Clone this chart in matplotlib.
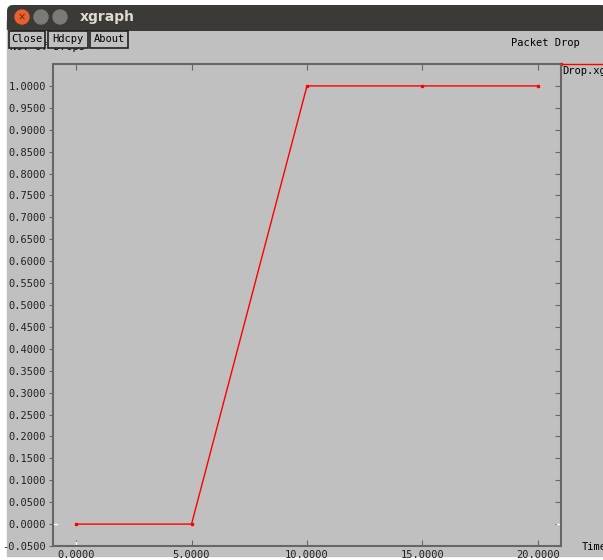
import numpy as np
import matplotlib
matplotlib.use('Agg')
import matplotlib.pyplot as plt
from matplotlib.patches import Rectangle, FancyBboxPatch, Circle

# datos del archivo Drop.xg
tiempo = [0, 5, 10, 15, 20]
caidas = [0, 0, 1, 1, 1]
x_ticks = [0, 5, 10, 15, 20]
y_ticks = np.round(np.arange(-0.05, 1.0001, 0.05), 4)

gris = '#c0c0c0'
borde = '#666666'
mono = 'DejaVu Sans Mono'

fig = plt.figure(figsize=(6.03, 5.60), dpi=100)
fig.patch.set_facecolor('white')

# capa de fondo en pixeles (ventana)
bg = fig.add_axes([0, 0, 1, 1])
bg.set_xlim(0, 603)
bg.set_ylim(560, 0)
bg.axis('off')
bg.add_patch(Rectangle((7, 28), 600, 528, color=gris, zorder=0))
barra = FancyBboxPatch((7, 5), 600, 26, boxstyle='round,pad=0,rounding_size=6',
                       facecolor='#3b3a36', edgecolor='none', zorder=1)
bg.add_patch(barra)
bg.add_patch(Rectangle((7, 20), 600, 9, color='#3b3a36', zorder=1))
bg.add_patch(Circle((22, 17), 7, color='#e9602f', zorder=2))
bg.text(22, 17.5, '×', color='#5a2a10', fontsize=7, ha='center', va='center', zorder=3)
bg.add_patch(Circle((41, 17), 7, color='#7b7a76', zorder=2))
bg.add_patch(Circle((60, 17), 7, color='#7b7a76', zorder=2))
bg.text(80, 17, 'xgraph', color='#dfdbd2', fontsize=10, fontweight='bold', va='center', zorder=3)

# texto de los ejes y titulo
bg.text(10, 52, 'No. of Drops', family=mono, fontsize=7.5, va='bottom', zorder=2)
bg.text(545, 43, 'Packet Drop', family=mono, fontsize=7.5, ha='center', va='center', zorder=2)
bg.text(582, 547, 'Time', family=mono, fontsize=7.5, va='center', zorder=2)

# botones
for nombre, x0, x1 in [('Close', 9, 45), ('Hdcpy', 48, 88), ('About', 90, 128)]:
    bg.add_patch(Rectangle((x0, 31), x1 - x0, 17, facecolor=gris, edgecolor='#222222', lw=1.2, zorder=4))
    bg.text((x0 + x1) / 2, 39.5, nombre, family=mono, fontsize=7.5, ha='center', va='center', zorder=5)

# leyenda
bg.plot([561, 610], [64, 64], color='red', lw=1, clip_on=False, zorder=3)
bg.plot([561], [64], 's', color='red', ms=2, zorder=3)
bg.text(562, 71, 'Drop.xg', family=mono, fontsize=7.5, va='center', zorder=3)

# grafica
ax = fig.add_axes([53 / 603, 14 / 560, 508 / 603, 482 / 560])
ax.set_facecolor('none')
ax.plot(tiempo, caidas, color='red', lw=1, marker='s', ms=2)
ax.set_xlim(-1, 21)
ax.set_ylim(-0.05, 1.05)
ax.set_xticks(x_ticks)
ax.set_xticklabels(['%.4f' % v for v in x_ticks], family=mono, fontsize=7.5, color='#222222')
ax.set_yticks(y_ticks)
ax.set_yticklabels(['%.4f' % v for v in y_ticks], family=mono, fontsize=7.5, color='#222222')
ax.tick_params(axis='y', direction='out', length=3, color=borde, pad=2)
ax.tick_params(axis='x', direction='in', length=4, color=borde, top=True, pad=3)
for s in ax.spines.values():
    s.set_color(borde)
    s.set_linestyle((0, (1, 1)))
    s.set_linewidth(1.5)

# marcas del lado derecho hacia dentro
der = ax.secondary_yaxis('right')
der.set_yticks(y_ticks)
der.set_yticklabels([])
der.tick_params(direction='in', length=4, color=borde)
der.spines['right'].set_visible(False)

# marcas blancas del cero
ax.plot([0, 0.008], [0, 0], color='white', lw=1, transform=ax.get_yaxis_transform(), clip_on=False)
ax.plot([0.992, 1], [0, 0], color='white', lw=1, transform=ax.get_yaxis_transform(), clip_on=False)
ax.plot([0, 0], [0, 0.008], color='white', lw=1, transform=ax.get_xaxis_transform(), clip_on=False)

plt.savefig('out.png', dpi=100)
